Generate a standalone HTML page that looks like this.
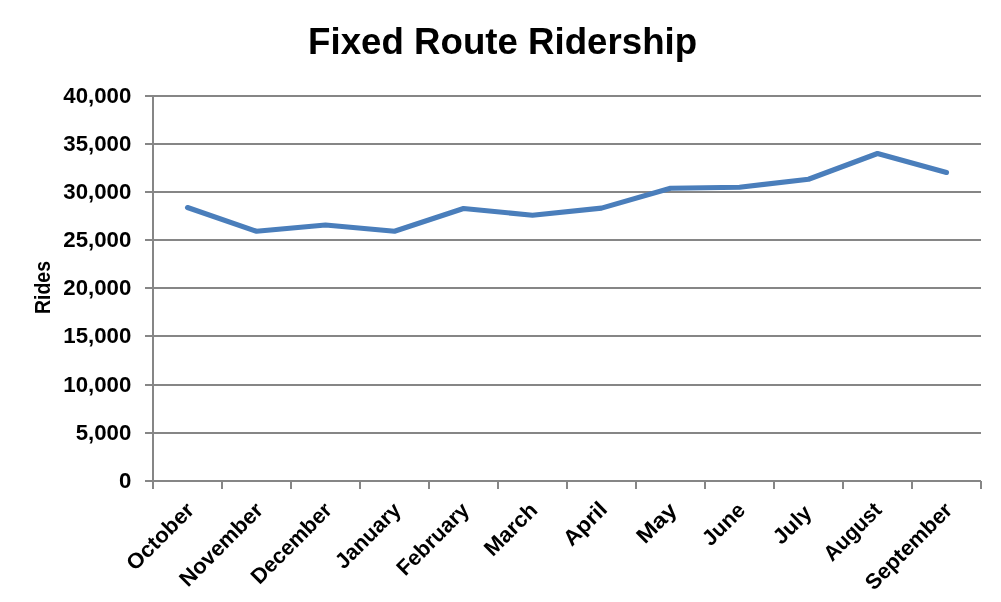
<!DOCTYPE html>
<html><head><meta charset="utf-8"><title>Fixed Route Ridership</title>
<style>
html,body{margin:0;padding:0;background:#fff;}
body{width:1001px;height:602px;overflow:hidden;}
svg{display:block;will-change:transform;}
text{font-family:"Liberation Sans",sans-serif;font-weight:bold;fill:#000;}
</style></head><body>
<svg width="1001" height="602" viewBox="0 0 1001 602">
<rect width="1001" height="602" fill="#fff"/>

<g stroke="#868686" stroke-width="2" fill="none">
<line x1="145" y1="96" x2="981" y2="96"/>
<line x1="145" y1="144" x2="981" y2="144"/>
<line x1="145" y1="192" x2="981" y2="192"/>
<line x1="145" y1="240" x2="981" y2="240"/>
<line x1="145" y1="288" x2="981" y2="288"/>
<line x1="145" y1="336" x2="981" y2="336"/>
<line x1="145" y1="385" x2="981" y2="385"/>
<line x1="145" y1="433" x2="981" y2="433"/>
<line x1="145" y1="481" x2="981" y2="481"/>
<line x1="153" y1="95" x2="153" y2="489"/>
<line x1="222" y1="481" x2="222" y2="489"/>
<line x1="291" y1="481" x2="291" y2="489"/>
<line x1="360" y1="481" x2="360" y2="489"/>
<line x1="429" y1="481" x2="429" y2="489"/>
<line x1="498" y1="481" x2="498" y2="489"/>
<line x1="567" y1="481" x2="567" y2="489"/>
<line x1="636" y1="481" x2="636" y2="489"/>
<line x1="705" y1="481" x2="705" y2="489"/>
<line x1="774" y1="481" x2="774" y2="489"/>
<line x1="843" y1="481" x2="843" y2="489"/>
<line x1="912" y1="481" x2="912" y2="489"/>
<line x1="981" y1="481" x2="981" y2="489"/>
</g>
<polyline points="187.50,207.50 256.50,231.25 325.50,225.00 394.50,231.25 463.50,208.50 532.50,215.25 601.50,208.10 670.50,188.25 739.50,187.25 808.50,179.25 877.50,153.50 946.50,172.50" fill="none" stroke="#4a7ebb" stroke-width="5.1" stroke-linecap="round" stroke-linejoin="round"/>
<text id="title" x="502.6" y="54" font-size="37.7" text-anchor="middle" textLength="389" lengthAdjust="spacingAndGlyphs">Fixed Route Ridership</text>
<text class="yl" transform="translate(131.3,102.70) scale(1.03,1)" font-size="21.6" text-anchor="end">40,000</text>
<text class="yl" transform="translate(131.3,150.70) scale(1.03,1)" font-size="21.6" text-anchor="end">35,000</text>
<text class="yl" transform="translate(131.3,198.70) scale(1.03,1)" font-size="21.6" text-anchor="end">30,000</text>
<text class="yl" transform="translate(131.3,246.70) scale(1.03,1)" font-size="21.6" text-anchor="end">25,000</text>
<text class="yl" transform="translate(131.3,294.70) scale(1.03,1)" font-size="21.6" text-anchor="end">20,000</text>
<text class="yl" transform="translate(131.3,342.70) scale(1.03,1)" font-size="21.6" text-anchor="end">15,000</text>
<text class="yl" transform="translate(131.3,391.70) scale(1.03,1)" font-size="21.6" text-anchor="end">10,000</text>
<text class="yl" transform="translate(131.3,439.70) scale(1.03,1)" font-size="21.6" text-anchor="end">5,000</text>
<text class="yl" transform="translate(131.3,487.70) scale(1.03,1)" font-size="21.6" text-anchor="end">0</text>
<text id="rides" transform="translate(49.9,287.5) rotate(-90) scale(0.9,1)" font-size="21.7" text-anchor="middle">Rides</text>
<text class="xl" transform="translate(195.30,511.4) rotate(-45) scale(1.0316,1)" font-size="21.6" text-anchor="end">October</text>
<text class="xl" transform="translate(264.30,511.4) rotate(-45) scale(1.0234,1)" font-size="21.6" text-anchor="end">November</text>
<text class="xl" transform="translate(333.30,511.4) rotate(-45) scale(1.0002,1)" font-size="21.6" text-anchor="end">December</text>
<text class="xl" transform="translate(402.30,511.4) rotate(-45) scale(1.0,1)" font-size="21.6" text-anchor="end">January</text>
<text class="xl" transform="translate(470.50,511.4) rotate(-45) scale(1.0,1)" font-size="21.6" text-anchor="end">February</text>
<text class="xl" transform="translate(538.70,511.4) rotate(-45) scale(1.0193,1)" font-size="21.6" text-anchor="end">March</text>
<text class="xl" transform="translate(608.50,510.4) rotate(-45) scale(1.0578,1)" font-size="21.6" text-anchor="end">April</text>
<text class="xl" transform="translate(678.30,511.4) rotate(-45) scale(1.1244,1)" font-size="21.6" text-anchor="end">May</text>
<text class="xl" transform="translate(746.50,511.4) rotate(-45) scale(1.0004,1)" font-size="21.6" text-anchor="end">June</text>
<text class="xl" transform="translate(813.10,513.9) rotate(-45) scale(1.0344,1)" font-size="21.6" text-anchor="end">July</text>
<text class="xl" transform="translate(882.90,511.4) rotate(-45) scale(0.9657,1)" font-size="21.6" text-anchor="end">August</text>
<text class="xl" transform="translate(953.50,511.4) rotate(-45) scale(1.0114,1)" font-size="21.6" text-anchor="end">September</text>
</svg></body></html>
